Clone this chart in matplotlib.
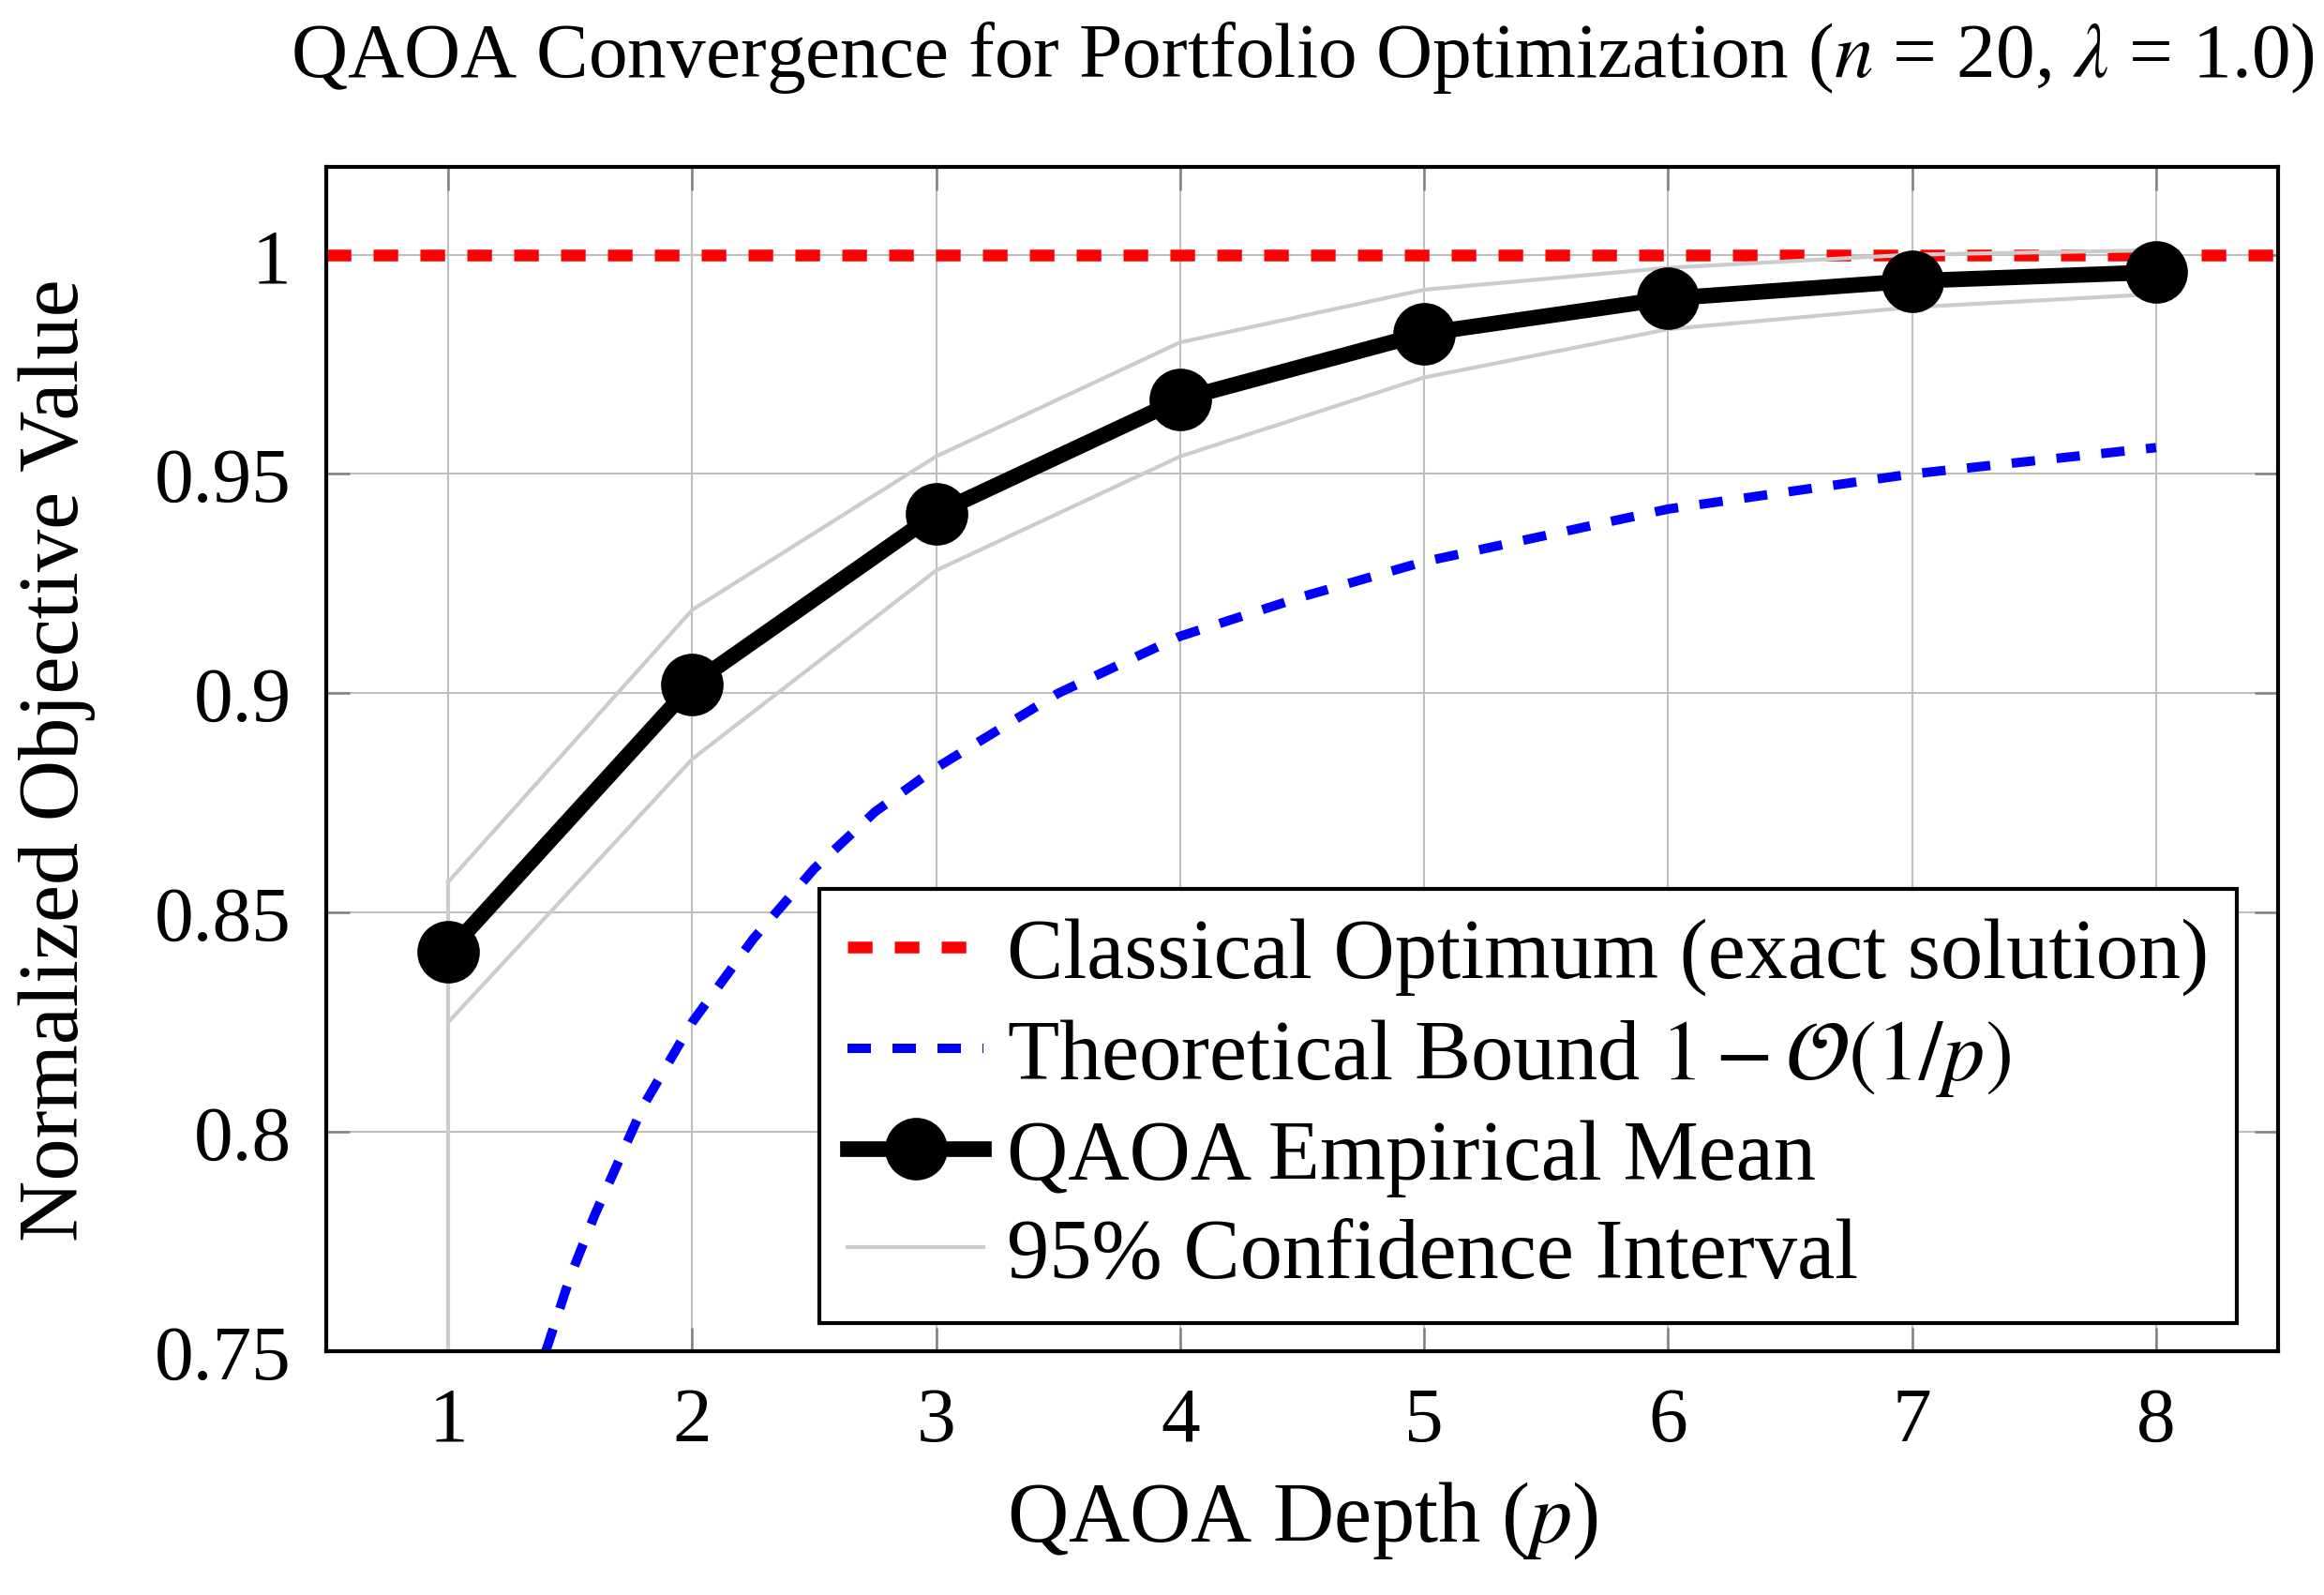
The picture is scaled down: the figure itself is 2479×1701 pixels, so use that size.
import matplotlib
matplotlib.use("Agg")
import matplotlib.pyplot as plt
from matplotlib.ticker import FixedLocator, FuncFormatter

plt.rcParams['font.family'] = ['Liberation Serif', 'DejaVu Serif']
plt.rcParams['mathtext.fontset'] = 'stix'

# ---- data ----
depth = [1, 2, 3, 4, 5, 6, 7, 8]
qaoa_mean = [0.841, 0.902, 0.941, 0.967, 0.982, 0.990, 0.994, 0.996]
ci_upper = [0.857, 0.919, 0.954, 0.980, 0.992, 0.997, 1.000, 1.001]
ci_lower = [0.825, 0.885, 0.928, 0.954, 0.972, 0.983, 0.988, 0.991]
ci_left_edge_y = [0.75, 0.857]          # vertical CI segment at p = 1
classical_opt = 1.0
bound_p = [1.4, 1.5, 1.6, 1.8, 2.0, 2.25, 2.5, 2.75, 3.0, 3.5, 4.0, 4.5,
           5.0, 5.5, 6.0, 6.5, 7.0, 7.5, 8.0]
bound_val = [0.750, 0.767, 0.781, 0.806, 0.825, 0.844, 0.860, 0.873, 0.883,
             0.900, 0.913, 0.922, 0.930, 0.936, 0.942, 0.946, 0.950, 0.953,
             0.956]
x_ticks = [1, 2, 3, 4, 5, 6, 7, 8]
y_ticks = [0.75, 0.80, 0.85, 0.90, 0.95, 1.00]

title = r"QAOA Convergence for Portfolio Optimization ($n$ = 20, $\lambda$ = 1.0)"
xlabel = r"QAOA Depth ($p$)"
ylabel = "Normalized Objective Value"
labels = ["Classical Optimum (exact solution)",
          r"Theoretical Bound $1 - \mathcal{O}(1/p)$",
          "QAOA Empirical Mean",
          "95% Confidence Interval"]

W, H, DPI = 2479, 1702, 300
fig = plt.figure(figsize=(W / DPI, H / DPI), dpi=DPI)
ax = fig.add_axes([348 / W, 1 - 1442 / H, (2430 - 348) / W, (1442 - 179) / H])

FS = 20
FS_LAB = 21.7
grid_c = '#bfbfbf'
ci_c = '#cccccc'

ax.set_xlim(0.5, 8.5)
ax.set_ylim(0.75, 1.02)
ax.xaxis.set_major_locator(FixedLocator(x_ticks))
ax.yaxis.set_major_locator(FixedLocator(y_ticks))
ax.yaxis.set_major_formatter(FuncFormatter(lambda v, pos: f"{v:g}"))
ax.grid(True, color=grid_c, linewidth=0.5, zorder=0)
ax.set_axisbelow(True)
ax.tick_params(which='both', direction='in', length=6, width=0.6,
               color='#808080', top=True, right=True, labelsize=FS, pad=9)
for s in ax.spines.values():
    s.set_linewidth(1.0)
    s.set_color('black')
    s.set_zorder(10)

h_red, = ax.plot([0.5, 8.5], [classical_opt, classical_opt], color='#ff0000',
                 lw=3.0, dashes=(2.1, 1.9), zorder=3)
h_blue, = ax.plot(bound_p, bound_val, color='#0000ff', lw=2.4,
                  dashes=(2.5, 2.3), zorder=3)
h_ci, = ax.plot(depth, ci_upper, color=ci_c, lw=1.0, zorder=4)
ax.plot(depth, ci_lower, color=ci_c, lw=1.0, zorder=4)
ax.plot([depth[0], depth[0]], ci_left_edge_y, color=ci_c, lw=1.0, zorder=4)
h_mean, = ax.plot(depth, qaoa_mean, color='black', lw=4.0, marker='o',
                  markersize=16, markeredgewidth=0, zorder=5)

ax.set_title(title, fontsize=FS, y=1.077, pad=0)
ax.set_xlabel(xlabel, fontsize=FS_LAB)
ax.set_ylabel(ylabel, fontsize=FS_LAB)
ax.xaxis.set_label_coords(0.5, -0.108)
ax.yaxis.set_label_coords(-0.118, 0.5)

leg = ax.legend([h_red, h_blue, h_mean, h_ci], labels, loc='lower right',
                bbox_to_anchor=(0.979, 0.024), borderaxespad=0, fontsize=FS_LAB,
                handlelength=1.6, handletextpad=0.28, borderpad=0.33,
                labelspacing=0.25, numpoints=1, fancybox=False, framealpha=1,
                edgecolor='black')
leg.get_frame().set_linewidth(1.0)
leg.set_zorder(20)

fig.savefig("out.png", dpi=DPI)
